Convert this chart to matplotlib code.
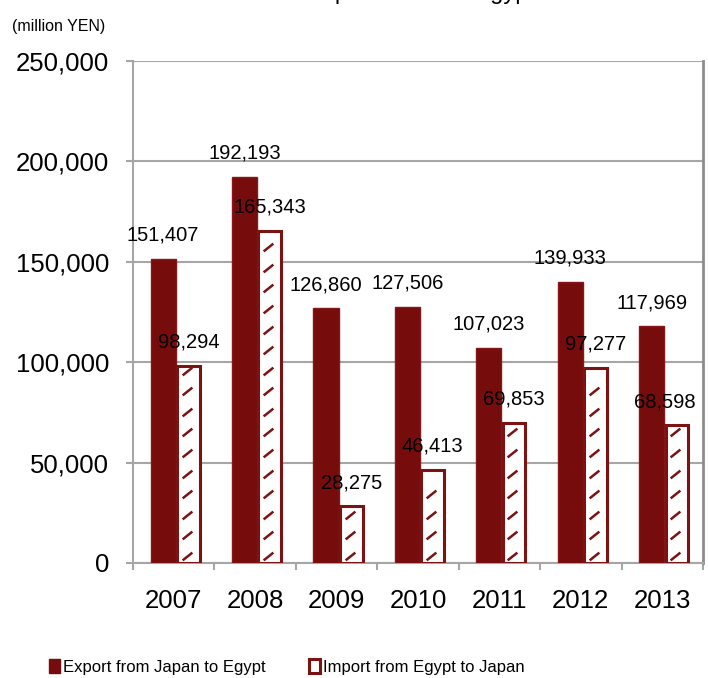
import numpy as np
import matplotlib
matplotlib.use("Agg")
import matplotlib.pyplot as plt
from matplotlib.patches import Patch
from matplotlib.path import Path

plt.rcParams['font.family'] = ['Liberation Sans', 'DejaVu Sans']

years = ['2007', '2008', '2009', '2010', '2011', '2012', '2013']
export_jp_eg = [151407, 192193, 126860, 127506, 107023, 139933, 117969]
import_eg_jp = [98294, 165343, 28275, 46413, 69853, 97277, 68598]

dark_red = '#760c0c'
edge_red = '#7d1212'
grid_gray = '#a6a6a6'

fig = plt.figure(figsize=(7.08, 6.78), dpi=100)
ax = fig.add_axes([133 / 708, 1 - 563 / 678, 570 / 708, 502 / 678])

x = np.arange(len(years))
w = 0.31
x_exp = x - 0.13
x_imp = x + 0.18

ax.bar(x_exp, export_jp_eg, width=w, color=dark_red, edgecolor='#86171a',
       linewidth=1.0, zorder=3)
ax.bar(x_imp, import_eg_jp, width=w - 0.03, color='white', edgecolor=edge_red,
       linewidth=2.2, zorder=3)

# dashed diagonal fill pattern inside the import bars
dash = Path([(-1, -0.8), (1, 0.8)])
step = 10250
for xi, v in zip(x_imp, import_eg_jp):
    ys = np.arange(3500, v - 2500, step)
    ax.plot(np.full(len(ys), xi - 0.02), ys, linestyle='none', marker=dash,
            markersize=7, markeredgewidth=1.8, color=edge_red, zorder=4)

labels_txt = []
for xi, v in zip(x_exp, export_jp_eg):
    labels_txt.append(ax.annotate(f'{v:,}', (xi, v), xytext=(0, 17),
                                  textcoords='offset points', ha='center',
                                  va='center', fontsize=14.5, zorder=5))
for xi, v in zip(x_imp, import_eg_jp):
    labels_txt.append(ax.annotate(f'{v:,}', (xi, v), xytext=(0, 17),
                                  textcoords='offset points', ha='center',
                                  va='center', fontsize=14.5, zorder=5))

ax.set_xlim(-0.5, len(years) - 0.5)
ax.set_ylim(0, 250000)
ax.set_yticks(np.arange(0, 250001, 50000))
ax.set_yticklabels([f'{t:,}' for t in range(0, 250001, 50000)], fontsize=18.5)
ax.yaxis.grid(True, color=grid_gray, linewidth=1.5, zorder=0)
ax.set_axisbelow(True)

ax.set_xticks(np.arange(-0.5, len(years)), minor=False)
ax.set_xticklabels([])
ax.set_xticks(x, minor=True)
ax.set_xticklabels(years, minor=True, fontsize=18.5)
ax.tick_params(axis='x', which='major', length=5, width=1.5, color=grid_gray)
ax.tick_params(axis='x', which='minor', length=0, pad=19)
ax.tick_params(axis='y', length=5, width=1.5, color=grid_gray, pad=12)

ax.spines['top'].set_visible(False)
for s in ['left', 'bottom']:
    ax.spines[s].set_color(grid_gray)
    ax.spines[s].set_linewidth(1.5)
ax.spines['right'].set_color('#8c8c8c')
ax.spines['right'].set_linewidth(2.0)

# keep data labels inside the plot area, as the spreadsheet does
fig.canvas.draw()
renderer = fig.canvas.get_renderer()
ax_right = ax.get_window_extent(renderer).x1
for t in labels_txt:
    bb = t.get_window_extent(renderer)
    over = bb.x1 - (ax_right - 7)
    if over > 0:
        ox, oy = t.xyann
        t.xyann = (ox - over * 72 / fig.dpi, oy)

fig.text(0.597, 1 + 1 / 678, "Japan Trade to Egypt", ha='center',
         va='baseline', fontsize=17)
fig.text(12 / 708, 1 - 27 / 678, '(million YEN)', ha='left', va='center',
         fontsize=11.5)

handles = [Patch(facecolor=dark_red, edgecolor=dark_red, linewidth=1),
           Patch(facecolor='white', edgecolor=edge_red, linewidth=2.2)]
labels = ['Export from Japan to Egypt', 'Import from Egypt to Japan']
fig.legend(handles, labels, loc='center', bbox_to_anchor=(287 / 708, 1 - 667 / 678),
           ncol=2, frameon=False, handlelength=0.65, handleheight=0.9,
           handletextpad=0.2, columnspacing=2.6, prop={'size': 12})

fig.savefig('out.png', dpi=100)
